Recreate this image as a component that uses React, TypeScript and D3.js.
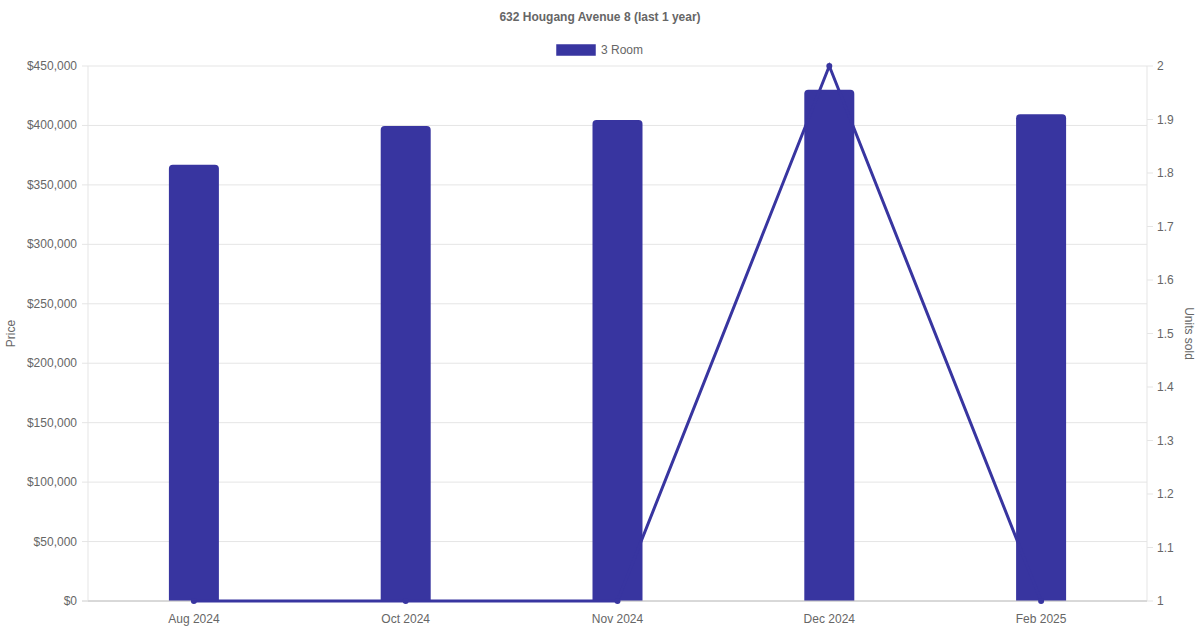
import React from "react";
import * as d3 from "d3";

const categories = ["Aug 2024", "Oct 2024", "Nov 2024", "Dec 2024", "Feb 2025"];
const prices = [367000, 399500, 404500, 430000, 409500];
const units = [1, 1, 1, 2, 1];
const priceTicks = [0, 50000, 100000, 150000, 200000, 250000, 300000, 350000, 400000, 450000];
const unitTicks = [1, 1.1, 1.2, 1.3, 1.4, 1.5, 1.6, 1.7, 1.8, 1.9, 2];
const seriesName = "3 Room";
const title = "632 Hougang Avenue 8 (last 1 year)";

const W = 1200, H = 630;
const L = 88, R = 1147, T = 66, B = 601;
const COLOR = "#3835a0";
const FONT = "'Liberation Sans', Arial, Helvetica, sans-serif";

export default function App() {
  const x = d3.scaleBand().domain(categories).range([L, R]);
  const yL = d3.scaleLinear().domain([0, 450000]).range([B, T]);
  const yR = d3.scaleLinear().domain([1, 2]).range([B, T]);
  const fmt = (v: number) => "$" + d3.format(",")(v);
  const barW = 50;
  const rad = 4;
  const line = d3
    .line<number>()
    .x((_, i) => (x(categories[i]) as number) + x.bandwidth() / 2)
    .y((d) => yR(d));

  const barPath = (cx: number, top: number) => {
    const x0 = cx - barW / 2, x1 = cx + barW / 2;
    return `M${x0},${B}V${top + rad}Q${x0},${top} ${x0 + rad},${top}H${x1 - rad}Q${x1},${top} ${x1},${top + rad}V${B}Z`;
  };

  return (
    <div style={{ position: "absolute", left: 0, top: 0 }}>
      <svg width={W} height={H} style={{ display: "block", fontFamily: FONT }}>
        <rect width={W} height={H} fill="#fff" />
        <text x={600} y={21} textAnchor="middle" fontSize={12} fontWeight="bold" fill="#666">
          {title}
        </text>
        <rect x={556} y={44} width={40} height={12} fill={COLOR} stroke="#fff" strokeWidth={0.5} />
        <text x={601} y={54} fontSize={12} fill="#666">{seriesName}</text>

        {priceTicks.map((t) => (
          <g key={"g" + t}>
            <line x1={82} x2={R} y1={yL(t)} y2={yL(t)} stroke={t === 0 ? "#cccccc" : "#e5e5e5"} strokeWidth={1} />
            <text x={77} y={yL(t) + 4} textAnchor="end" fontSize={12} fill="#666">{fmt(t)}</text>
          </g>
        ))}
        <line x1={L} x2={L} y1={T} y2={B} stroke="#e5e5e5" />
        <line x1={R} x2={R} y1={T} y2={B} stroke="#e5e5e5" />
        {unitTicks.map((t) => (
          <g key={"u" + t}>
            <line x1={R} x2={R + 6} y1={yR(t)} y2={yR(t)} stroke="#e5e5e5" />
            <text x={1157} y={yR(t) + 4} fontSize={12} fill="#666">{d3.format("~g")(t)}</text>
          </g>
        ))}
        <text transform={`translate(15,${(T + B) / 2}) rotate(-90)`} textAnchor="middle" fontSize={12} fill="#666">Price</text>
        <text transform={`translate(1185,${(T + B) / 2}) rotate(90)`} textAnchor="middle" fontSize={12} fill="#666">Units sold</text>

        {categories.map((c, i) => {
          const cx = (x(c) as number) + x.bandwidth() / 2;
          return (
            <g key={c}>
              <path d={barPath(cx, yL(prices[i]))} fill={COLOR} />
              <text x={cx} y={B + 22} textAnchor="middle" fontSize={12} fill="#666">{c}</text>
            </g>
          );
        })}
        <line x1={L} x2={R} y1={B} y2={B} stroke="#cccccc" />

        <path d={line(units) || ""} fill="none" stroke={COLOR} strokeWidth={3} />
        {units.map((u, i) => (
          <circle key={i} cx={(x(categories[i]) as number) + x.bandwidth() / 2} cy={yR(u)} r={3} fill={COLOR} />
        ))}
      </svg>
    </div>
  );
}
